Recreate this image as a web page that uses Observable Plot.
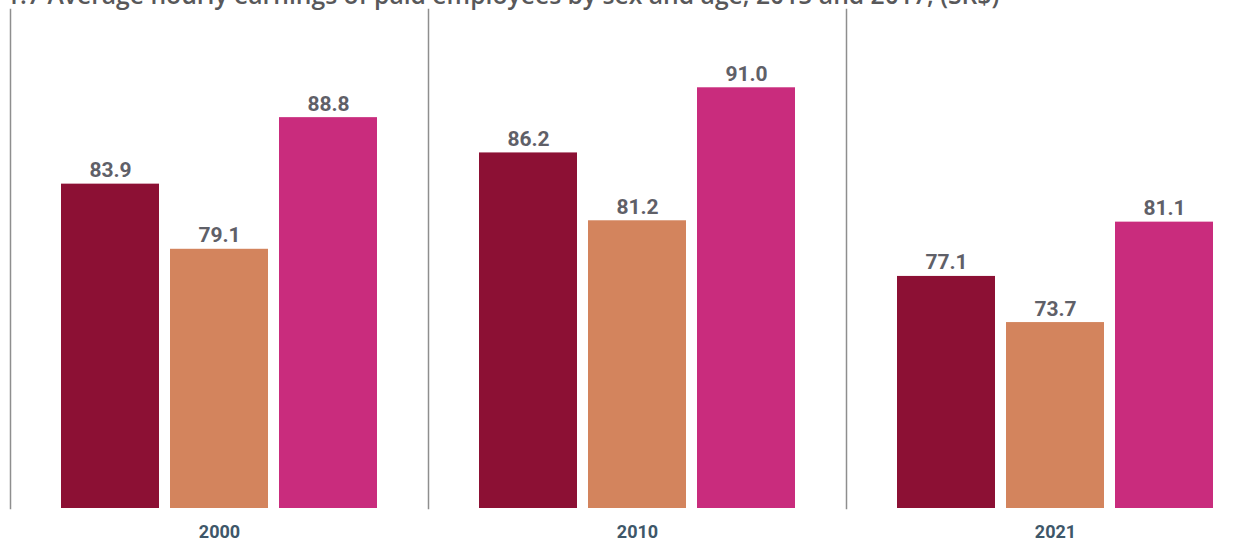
<!DOCTYPE html>
<html>
<head>
<meta charset="utf-8">
<script src="https://cdn.jsdelivr.net/npm/d3@7"></script>
<script src="https://cdn.jsdelivr.net/npm/@observablehq/plot@0.6"></script>
<style>
  html, body { margin: 0; padding: 0; background: #fff; }
  #wrap { position: relative; width: 1251px; height: 542px; overflow: hidden; }
  #title { position: absolute; left: 6px; top: -22px; white-space: nowrap;
           font-family: "Open Sans", sans-serif; font-weight: 600; font-size: 24.7px; color: #58585a; }
  #chart { position: absolute; left: 0; top: 0; }
  g[aria-label="fx-axis tick label"] text { fill: #3e5769; font-weight: bold; }
</style>
</head>
<body>
<div id="wrap">
  <div id="chart"></div>
  <div id="title">1.7 Average hourly earnings of paid employees by sex and age, 2015 and 2017, (SR$)</div>
</div>
<script>
const years = ["2000", "2010", "2021"];
const series = ["Total", "Men", "Women"];
const colors = ["#8c1034", "#d3845d", "#c92c7d"];
const values2000 = [83.9, 79.1, 88.8];
const values2010 = [86.2, 81.2, 91.0];
const values2021 = [77.1, 73.7, 81.1];

const byYear = [values2000, values2010, values2021];
const data = years.flatMap((year, i) =>
  series.map((s, j) => ({year, series: s, value: byYear[i][j]}))
);

const chart = Plot.plot({
  width: 1251,
  height: 542,
  marginLeft: 10,
  marginRight: -13,
  marginTop: 33,
  marginBottom: 34,
  style: {fontFamily: "Roboto, 'Liberation Sans', sans-serif", background: "transparent"},
  fx: {domain: years, paddingInner: 0, paddingOuter: 0, axis: null, label: null},
  x: {domain: series, paddingInner: 0.1, paddingOuter: 0.4587, axis: null},
  y: {domain: [60, 95], axis: null},
  color: {domain: series, range: colors},
  marks: [
    Plot.frame({anchor: "left", stroke: "#8e8e8e", strokeWidth: 1.5, insetTop: -24}),
    Plot.barY(data, {fx: "year", x: "series", y: "value", fill: "series", clip: true}),
    Plot.text(data, {
      fx: "year", x: "series", y: "value",
      text: d => d.value.toFixed(1),
      lineAnchor: "bottom", dy: -7,
      fill: "#5f6068", fontWeight: "bold", fontSize: 21
    }),
    Plot.axisFx({anchor: "bottom", tickSize: 0, tickPadding: 17, fontSize: 18, label: null})
  ]
});
document.getElementById("chart").appendChild(chart);
</script>
</body>
</html>
